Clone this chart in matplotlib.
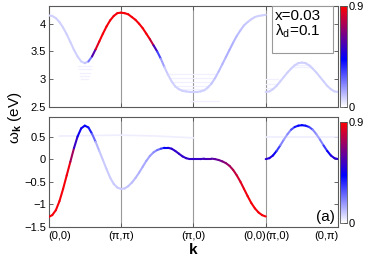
import numpy as np
import matplotlib
matplotlib.use('Agg')
import matplotlib.pyplot as plt
from matplotlib.collections import LineCollection
from matplotlib.colors import LinearSegmentedColormap, Normalize
from matplotlib.cm import ScalarMappable
from matplotlib.patches import Rectangle

plt.rcParams['font.family'] = ['Liberation Sans', 'DejaVu Sans']
plt.rcParams['mathtext.fontset'] = 'custom'
plt.rcParams['mathtext.rm'] = 'Liberation Sans'
plt.rcParams['mathtext.it'] = 'Liberation Sans:italic'
plt.rcParams['mathtext.bf'] = 'Liberation Sans:bold'

# k path: (0,0)->(pi,pi)->(pi,0)->(0,0) | (pi,0)->(0,pi), each segment one unit
kpath_labels = ['(0,0)', '(π,π)', '(π,0)', '(0,0)', '(π,0)', '(0,π)']
seg_k = np.linspace(0, 1, 21)

# upper band (top panel), eV
top_gm = [4.15, 4.14, 4.10, 4.03, 3.93, 3.81, 3.67, 3.53, 3.41, 3.32, 3.29,
          3.32, 3.41, 3.54, 3.68, 3.82, 3.95, 4.06, 4.14, 4.19, 4.20]
top_mx = [4.20, 4.19, 4.17, 4.12, 4.07, 4.00, 3.92, 3.82, 3.72, 3.61, 3.50,
          3.37, 3.22, 3.08, 2.96, 2.87, 2.82, 2.79, 2.78, 2.77, 2.77]
top_xg = [2.77, 2.77, 2.78, 2.80, 2.85, 2.92, 3.02, 3.14, 3.27, 3.40, 3.53,
          3.66, 3.78, 3.88, 3.97, 4.03, 4.08, 4.12, 4.14, 4.15, 4.16]
top_xy = [2.77, 2.78, 2.82, 2.88, 2.96, 3.04, 3.12, 3.19, 3.25, 3.29, 3.30,
          3.29, 3.25, 3.19, 3.12, 3.04, 2.96, 2.88, 2.82, 2.78, 2.77]
# spectral weights
w_top_gm = [0.08, 0.08, 0.08, 0.08, 0.08, 0.08, 0.08, 0.08, 0.08, 0.08, 0.08,
            0.12, 0.35, 0.80, 0.88, 0.88, 0.88, 0.88, 0.88, 0.88, 0.88]
w_top_mx = [0.88, 0.88, 0.88, 0.88, 0.88, 0.88, 0.88, 0.88, 0.88, 0.70, 0.40,
            0.22, 0.10, 0.08, 0.08, 0.08, 0.08, 0.08, 0.08, 0.08, 0.08]
w_top_xg = [0.08, 0.08, 0.08, 0.08, 0.08, 0.09, 0.10, 0.11, 0.12, 0.13, 0.14,
            0.13, 0.12, 0.11, 0.10, 0.09, 0.09, 0.08, 0.08, 0.08, 0.08]
w_top_xy = [0.08, 0.08, 0.08, 0.08, 0.08, 0.08, 0.08, 0.08, 0.08, 0.08, 0.08,
            0.08, 0.08, 0.08, 0.08, 0.08, 0.08, 0.08, 0.08, 0.08, 0.08]

# lower band (bottom panel), eV
bot_gm = [-1.28, -1.24, -1.13, -0.93, -0.66, -0.36, -0.06, 0.24, 0.50, 0.68, 0.74,
          0.70, 0.56, 0.38, 0.18, -0.02, -0.22, -0.41, -0.55, -0.63, -0.66]
bot_mx = [-0.66, -0.65, -0.60, -0.52, -0.42, -0.30, -0.17, -0.04, 0.07, 0.15, 0.20,
          0.23, 0.25, 0.25, 0.23, 0.18, 0.12, 0.06, 0.02, 0.00, 0.00]
bot_xg = [0.00, 0.00, 0.00, 0.01, 0.01, 0.01, 0.00, -0.02, -0.05, -0.09, -0.15,
          -0.24, -0.36, -0.50, -0.66, -0.82, -0.97, -1.09, -1.18, -1.24, -1.27]
bot_xy = [0.00, 0.02, 0.08, 0.18, 0.30, 0.43, 0.55, 0.65, 0.71, 0.74, 0.75,
          0.74, 0.71, 0.65, 0.55, 0.43, 0.30, 0.18, 0.08, 0.02, 0.00]
w_bot_gm = [0.88, 0.88, 0.88, 0.88, 0.88, 0.88, 0.85, 0.60, 0.45, 0.45, 0.45,
            0.42, 0.34, 0.16, 0.10, 0.09, 0.09, 0.09, 0.09, 0.09, 0.09]
w_bot_mx = [0.09, 0.09, 0.10, 0.11, 0.12, 0.13, 0.14, 0.15, 0.16, 0.18, 0.21,
            0.28, 0.38, 0.46, 0.50, 0.52, 0.52, 0.52, 0.52, 0.52, 0.52]
w_bot_xg = [0.52, 0.52, 0.53, 0.54, 0.56, 0.58, 0.60, 0.62, 0.65, 0.68, 0.72,
            0.76, 0.80, 0.83, 0.86, 0.88, 0.88, 0.88, 0.88, 0.88, 0.88]
w_bot_xy = [0.50, 0.50, 0.48, 0.40, 0.26, 0.16, 0.16, 0.24, 0.36, 0.42, 0.43,
            0.42, 0.36, 0.24, 0.16, 0.16, 0.26, 0.40, 0.48, 0.50, 0.50]

# faint flat feature near 0.5 eV
flat_k = [0.15, 0.5, 1.0, 1.5, 2.0]
flat_e = [0.51, 0.52, 0.53, 0.51, 0.47]
flat_xy_k = [3.0, 4.0]
flat_xy_e = [0.50, 0.50]
flat_w = 0.03

# faint incoherent streaks in the top panel: start k, end k, energy
streak_k0 = [0.45, 0.44, 0.43, 0.42, 0.41, 1.80, 1.75, 1.70, 1.68, 1.64, 3.0, 3.0, 3.0, 3.36, 3.38, 1.95]
streak_k1 = [0.55, 0.56, 0.57, 0.58, 0.59, 2.17, 2.22, 2.26, 2.30, 2.33, 3.10, 3.15, 3.17, 3.64, 3.62, 2.35]
streak_e = [3.00, 3.06, 3.12, 3.18, 3.24, 2.82, 2.88, 2.95, 3.02, 3.10, 2.84, 2.92, 3.00, 3.22, 3.26, 2.60]
streak_w = 0.025

cmap = LinearSegmentedColormap.from_list('wbr', [(0, 'white'), (0.47, 'blue'), (1, 'red')])
norm = Normalize(0, 0.9)


def draw_band(ax, k, e, w, lw=1.5):
    pts = np.column_stack([k, e])
    segs = np.stack([pts[:-1], pts[1:]], axis=1)
    w = np.asarray(w)
    cols = cmap(norm(0.5 * (w[:-1] + w[1:])))
    lc = LineCollection(segs, colors=cols, linewidths=lw, capstyle='round', zorder=3)
    ax.add_collection(lc)


fig = plt.figure(figsize=(3.74, 2.59), dpi=100)
ax1 = fig.add_axes([0.130, 0.587, 0.774, 0.390])
ax2 = fig.add_axes([0.130, 0.124, 0.774, 0.424])
cax1 = fig.add_axes([0.908, 0.587, 0.019, 0.390])
cax2 = fig.add_axes([0.908, 0.139, 0.019, 0.390])

faint = cmap(norm(streak_w))
for a, b, e in zip(streak_k0, streak_k1, streak_e):
    ax1.plot([a, b], [e, e], color=faint, lw=0.9, zorder=2)
ax2.plot(flat_k, flat_e, color=cmap(norm(flat_w)), lw=1.2, zorder=2)
ax2.plot(flat_xy_k, flat_xy_e, color=cmap(norm(flat_w)), lw=1.2, zorder=2)

# draw faint parts first, strong on top
for off, e, w in [(2, top_xg, w_top_xg), (3, top_xy, w_top_xy), (0, top_gm, w_top_gm), (1, top_mx, w_top_mx)]:
    draw_band(ax1, seg_k + off, e, w)
for off, e, w in [(0, bot_gm, w_bot_gm), (1, bot_mx, w_bot_mx), (3, bot_xy, w_bot_xy), (2, bot_xg, w_bot_xg)]:
    draw_band(ax2, seg_k + off, e, w)

for ax in (ax1, ax2):
    ax.set_xlim(0, 4)
    for xv in (1, 2, 3):
        ax.axvline(xv, color='0.6', lw=0.8, zorder=1)
    ax.tick_params(direction='in', top=True, right=True, length=3, width=0.6,
                   labelsize=8, color='0.3', pad=2)
    for s in ax.spines.values():
        s.set_color('0.35')
        s.set_linewidth(0.8)

ax1.set_ylim(2.5, 4.32)
ax1.set_yticks([2.5, 3, 3.5, 4])
ax1.set_yticklabels(['2.5', '3', '3.5', '4'])
ax1.set_xticks([0, 1, 2, 3, 4])
ax1.tick_params(labelbottom=False)

ax2.set_ylim(-1.5, 0.93)
ax2.set_yticks([-1.5, -1, -0.5, 0, 0.5])
ax2.set_yticklabels(['−1.5', '−1', '−0.5', '0', '0.5'])
ax2.set_xticks([0, 1, 2, 3, 4])
ax2.tick_params(labelbottom=False)
tick_pos = [0, 1, 2, 3, 3, 4]
tick_ha = ['left', 'center', 'center', 'right', 'left', 'right']
for xp, lab, ha in zip(tick_pos, kpath_labels, tick_ha):
    ax2.annotate(lab, xy=(xp, 0), xycoords=('data', 'axes fraction'),
                 xytext=(0, -3), textcoords='offset points', ha=ha, va='top', fontsize=8)

# parameter box
ax1.add_patch(Rectangle((3.09, 3.48), 0.84, 0.84, facecolor='white', edgecolor='0.6',
                        lw=0.8, zorder=4))
ax1.text(3.13, 4.27, 'x=0.03\nλ$_\\mathregular{d}$=0.1', fontsize=11, va='top', ha='left',
         linespacing=1.0, zorder=5)
ax2.text(3.96, -1.43, '(a)', fontsize=11, ha='right', va='bottom', zorder=5)

for cax in (cax1, cax2):
    cb = fig.colorbar(ScalarMappable(norm=norm, cmap=cmap), cax=cax, ticks=[0, 0.9])
    cb.ax.set_yticklabels(['0', '0.9'])
    cb.ax.tick_params(labelsize=8, length=2, width=0.6, pad=1.5, direction='in')
    cb.outline.set_linewidth(0.6)
    cb.outline.set_edgecolor('0.35')

fig.text(0.040, 0.545, 'ω$_\\mathbf{k}$ (eV)', rotation=90, fontsize=11, ha='center', va='center')
fig.text(0.517, 0.035, 'k', fontsize=11, fontweight='bold', ha='center', va='center')

fig.savefig('out.png', dpi=100)
